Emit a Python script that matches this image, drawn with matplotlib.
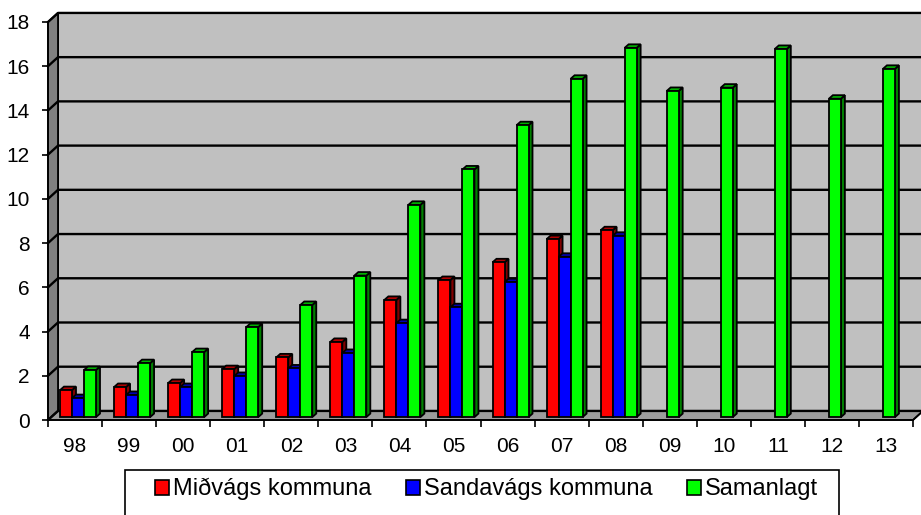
import numpy as np
import matplotlib.pyplot as plt
from matplotlib.patches import Polygon, Patch, Rectangle

plt.rcParams['font.family'] = ['Liberation Sans', 'DejaVu Sans']

# data
years = ['98', '99', '00', '01', '02', '03', '04', '05', '06', '07', '08',
         '09', '10', '11', '12', '13']
nan = np.nan
midvags = [1.22, 1.36, 1.54, 2.17, 2.7, 3.4, 5.3, 6.2, 7.0, 8.05, 8.45,
           nan, nan, nan, nan, nan]
sandavags = [0.86, 1.0, 1.36, 1.86, 2.2, 2.9, 4.25, 4.97, 6.1, 7.25, 8.2,
             nan, nan, nan, nan, nan]
samanlagt = [2.13, 2.44, 2.94, 4.07, 5.07, 6.4, 9.6, 11.2, 13.2, 15.3, 16.7,
             14.75, 14.9, 16.65, 14.4, 15.75]

labels = ['Miðvágs kommuna', 'Sandavágs kommuna', 'Samanlagt']
front_colors = ['#ff0000', '#0000ff', '#00ff00']
side_colors = ['#800000', '#000080', '#008000']
top_colors = ['#b00000', '#0000b0', '#00b000']

ncat = len(years)
ymax = 18

# fake 3d geometry (data units)
dx, dy = 0.185, 0.41      # wall depth
bdx, bdy = 0.074, 0.16    # bar depth
base = 0.13               # bars stand a little behind the front edge
w = 0.222                 # bar width
off = 0.222               # first bar offset within a category

fig = plt.figure(figsize=(9.21, 5.15), dpi=100)
ax = fig.add_axes([48 / 921, 95 / 515, 865 / 921, 398 / 515])
ax.set_xlim(0, ncat)
ax.set_ylim(0, ymax)
ax.patch.set_visible(False)


def face(pts, color, z, lw=1.3):
    ax.add_patch(Polygon(pts, closed=True, facecolor=color, edgecolor='black',
                         linewidth=lw, zorder=z, clip_on=False))


# walls and floor
face([(dx, dy), (ncat + dx, dy), (ncat + dx, ymax + dy), (dx, ymax + dy)], '#c0c0c0', 0.1)
face([(0, 0), (dx, dy), (dx, ymax + dy), (0, ymax)], '#808080', 0.2)
face([(0, 0), (ncat, 0), (ncat + dx, dy), (dx, dy)], '#9c9c9c', 0.2)

for v in range(0, ymax + 1, 2):
    ax.plot([0, dx, ncat + dx], [v, v + dy, v + dy], color='black', lw=1.7,
            zorder=0.5, clip_on=False)

# bars
series = [midvags, sandavags, samanlagt]
for s, vals in enumerate(series):
    z = 2 + s
    for i, v in enumerate(vals):
        if np.isnan(v):
            continue
        slot = s
        if s == 2 and np.isnan(midvags[i]):
            slot = 1
        x0 = i + off + slot * w
        top = base + v
        face([(x0 + w, base), (x0 + w + bdx, base + bdy),
              (x0 + w + bdx, top + bdy), (x0 + w, top)], side_colors[s], z - 0.1)
        face([(x0, top), (x0 + bdx, top + bdy), (x0 + w + bdx, top + bdy),
              (x0 + w, top)], top_colors[s], z - 0.1)
        ax.bar(x0, v, width=w, bottom=base, align='edge', color=front_colors[s],
               edgecolor='black', linewidth=1.3, zorder=z)

# right end of the floor edge
ax.plot([ncat, ncat + dx], [0, dy], color='black', lw=1.2, clip_on=False, zorder=0.6)

# axes
for side in ['top', 'right']:
    ax.spines[side].set_visible(False)
for side in ['left', 'bottom']:
    ax.spines[side].set_linewidth(1.2)
    ax.spines[side].set_zorder(10)

ax.set_yticks(range(0, ymax + 1, 2))
ax.tick_params(axis='y', length=4, width=1.2, pad=9, labelsize=15, colors='black')
ax.set_xticks(range(ncat + 1))
ax.set_xticklabels([])
ax.tick_params(axis='x', which='major', length=5, width=1.2)
ax.set_xticks(np.arange(ncat) + 0.5, minor=True)
ax.set_xticklabels(years, minor=True)
ax.tick_params(axis='x', which='minor', length=0, pad=12, labelsize=15)

# legend
fig.add_artist(Rectangle((125 / 921, -0.02), (839 - 125) / 921, 0.02 + 1 - 470 / 515,
                         transform=fig.transFigure, fill=False, edgecolor='black', lw=1.2))
handles = [Patch(facecolor=c, edgecolor='black', linewidth=1.2) for c in front_colors]
fig.legend(handles, labels, loc='upper left', bbox_to_anchor=(155 / 921, 1 - 478 / 515),
           ncol=3, frameon=False, fontsize=17, handlelength=0.6, handleheight=0.6,
           handletextpad=0.17, columnspacing=1.45, borderpad=0, borderaxespad=0)

fig.savefig('out.png', dpi=100)
